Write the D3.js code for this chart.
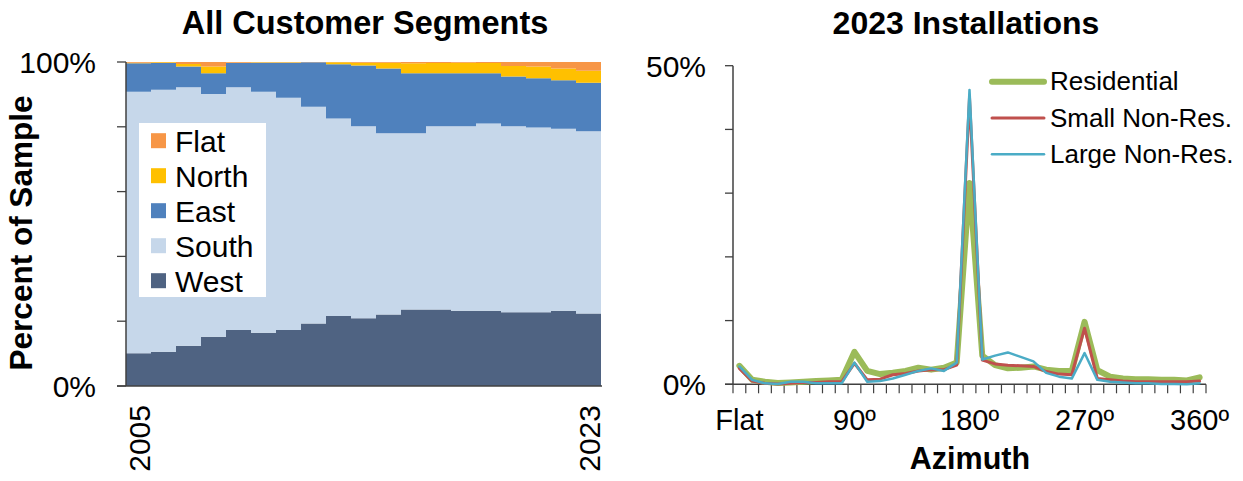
<!DOCTYPE html>
<html><head><meta charset="utf-8">
<script src="https://cdn.jsdelivr.net/npm/d3@7"></script>
<style>
html,body{margin:0;padding:0;background:#fff;}
svg{display:block;font-family:"Liberation Sans",Arial,sans-serif;}
</style></head>
<body>
<svg id="c" width="1243" height="481"></svg>
<script>
// ---------- Left chart data ----------
const years = [2005,2006,2007,2008,2009,2010,2011,2012,2013,2014,2015,2016,2017,2018,2019,2020,2021,2022,2023];
const segments = ["West","South","East","North","Flat"];
const west  = [10.1,10.6,12.4,15.2,17.3,16.4,17.3,19.3,21.6,20.9,22.1,23.6,23.6,23.2,23.2,22.8,22.8,23.2,22.4];
const south = [80.7,80.8,79.8,74.9,74.9,74.4,71.7,66.9,61.0,59.3,55.9,54.4,56.6,57.0,57.8,57.4,57.0,56.2,56.2];
const east  = [ 8.8, 8.3, 6.4, 6.4, 7.5, 9.0,10.8,13.7,16.7,18.7,20.0,18.5,16.3,16.3,15.5,15.3,15.2,15.0,15.0];
const north = [ 0.2, 0.2, 0.8, 2.1, 0.1, 0.1, 0.1, 0.0, 0.6, 0.9, 1.8, 3.1, 3.2, 3.3, 3.2, 3.3, 3.6, 3.6, 3.7];
const flat  = [ 0.2, 0.1, 0.6, 1.4, 0.2, 0.1, 0.1, 0.1, 0.1, 0.2, 0.2, 0.4, 0.3, 0.2, 0.3, 1.2, 1.4, 2.0, 2.7];
const leftYTicks = [0,20,40,60,80,100];
const leftYLabels = {0:"0%",100:"100%"};
const leftXLabels = [2005,2023];

// ---------- Right chart data ----------
const azimuths = ["Flat","10","20","30","40","50","60","70","80","90","100","110","120","130","140","150","160","170","180","190","200","210","220","230","240","250","260","270","280","290","300","310","320","330","340","350","360"];
const azLabels = {"Flat":"Flat","90":"90º","180":"180º","270":"270º","360":"360º"};
const residential = [2.9,0.7,0.4,0.2,0.3,0.4,0.5,0.6,0.7,5.1,2.1,1.6,1.8,2.1,2.6,2.3,2.6,3.4,31.6,4.5,3.0,2.5,2.6,2.8,2.3,2.1,2.1,9.8,2.2,1.2,0.9,0.8,0.8,0.7,0.7,0.6,1.1];
const smallNonRes = [2.5,0.5,0.15,0.05,0.15,0.3,0.3,0.4,0.4,3.3,0.7,0.8,1.5,1.7,2.1,2.3,2.3,3.0,45.0,3.8,3.2,3.0,2.9,2.8,2.0,1.6,1.5,8.8,0.9,0.7,0.5,0.4,0.4,0.4,0.4,0.4,0.5];
const largeNonRes = [2.8,0.7,0.15,0.05,0.4,0.4,0.15,0.15,0.15,3.4,0.4,0.5,0.9,1.5,2.1,2.5,2.1,3.4,46.2,3.9,4.5,5.0,4.3,3.6,1.8,1.2,0.9,4.9,0.7,0.4,0.3,0.15,0.15,0.05,0.05,0.0,0.15];
const rightYTicks = [0,10,20,30,40,50];
const rightYLabels = {0:"0%",50:"50%"};

const svg = d3.select("#c");
const axisColor = "#404040";

// ================= LEFT =================
const segColors = {West:"#4F6382",South:"#C6D7EA",East:"#4F81BD",North:"#FFC000",Flat:"#F79646"};
const segVals = {West:west,South:south,East:east,North:north,Flat:flat};
const rows = years.map((y,i)=>{const r={year:y}; segments.forEach(s=>r[s]=segVals[s][i]); return r;});
const stack = d3.stack().keys(segments)(rows);

const xL = d3.scaleBand().domain(years).range([126,601]).padding(0);
const yL = d3.scaleLinear().domain([0,100]).range([386,62]);

const gL = svg.append("g");
const areaL = d3.area()
  .x((d,i)=> i < years.length ? xL(years[i]) : xL.range()[1])
  .y0(d=>yL(d[0])).y1(d=>yL(d[1]))
  .curve(d3.curveStepAfter);
stack.forEach(layer=>{
  const pts = layer.map(d=>d).concat([layer[layer.length-1]]);
  gL.append("path").attr("d", areaL(pts)).attr("fill", segColors[layer.key]);
});

// left y axis
gL.append("line").attr("x1",126).attr("x2",126).attr("y1",yL(100)).attr("y2",yL(0)).attr("stroke",axisColor).attr("stroke-width",1.5);
leftYTicks.forEach(t=>{
  gL.append("line").attr("x1",117).attr("x2",126).attr("y1",yL(t)).attr("y2",yL(t)).attr("stroke",axisColor).attr("stroke-width",1.3);
  if (leftYLabels[t]!==undefined)
    gL.append("text").attr("x",96).attr("y",yL(t)+11).attr("text-anchor","end").attr("font-size",30).attr("fill","#000").text(leftYLabels[t]);
});
gL.append("line").attr("x1",117).attr("x2",602).attr("y1",386).attr("y2",386).attr("stroke",axisColor).attr("stroke-width",1.5);
leftXLabels.forEach(y=>{
  const cx = xL(y)+xL.bandwidth()/2 + 11;
  gL.append("text").attr("transform",`translate(${cx},405) rotate(-90)`).attr("text-anchor","end").attr("font-size",30).attr("fill","#000").text(String(y));
});
gL.append("text").attr("transform","translate(32,233) rotate(-90)").attr("text-anchor","middle").attr("font-size",31.5).attr("font-weight","bold").attr("fill","#000").text("Percent of Sample");
gL.append("text").attr("x",365).attr("y",34).attr("text-anchor","middle").attr("font-size",32.5).attr("font-weight","bold").attr("fill","#000").text("All Customer Segments");

// left legend
gL.append("rect").attr("x",139).attr("y",123).attr("width",127).attr("height",174).attr("fill","#fff");
const legOrder = ["Flat","North","East","South","West"];
legOrder.forEach((s,i)=>{
  const cy = 140.7 + i*35;
  gL.append("rect").attr("x",151).attr("y",cy-7.5).attr("width",15).attr("height",15).attr("fill",segColors[s]);
  gL.append("text").attr("x",175).attr("y",cy+11).attr("font-size",30).attr("fill","#000").text(s);
});

// ================= RIGHT =================
const xR = d3.scaleBand().domain(azimuths).range([733,1206]).padding(0);
const yR = d3.scaleLinear().domain([0,50]).range([384.3,65.7]);
const gR = svg.append("g");

gR.append("text").attr("x",966).attr("y",34).attr("text-anchor","middle").attr("font-size",32).attr("font-weight","bold").attr("fill","#000").text("2023 Installations");

// axes
gR.append("line").attr("x1",733).attr("x2",733).attr("y1",yR(50)).attr("y2",yR(0)).attr("stroke",axisColor).attr("stroke-width",1.5);
rightYTicks.forEach(t=>{
  gR.append("line").attr("x1",725).attr("x2",733).attr("y1",yR(t)).attr("y2",yR(t)).attr("stroke",axisColor).attr("stroke-width",1.3);
  if (rightYLabels[t]!==undefined)
    gR.append("text").attr("x",706).attr("y",yR(t)+11).attr("text-anchor","end").attr("font-size",30).attr("fill","#000").text(rightYLabels[t]);
});
gR.append("line").attr("x1",725).attr("x2",1206).attr("y1",yR(0)).attr("y2",yR(0)).attr("stroke",axisColor).attr("stroke-width",1.5);
azimuths.forEach(a=>{
  gR.append("line").attr("x1",xR(a)).attr("x2",xR(a)).attr("y1",yR(0)).attr("y2",yR(0)+9).attr("stroke",axisColor).attr("stroke-width",1.2);
});
gR.append("line").attr("x1",xR.range()[1]).attr("x2",xR.range()[1]).attr("y1",yR(0)).attr("y2",yR(0)+9).attr("stroke",axisColor).attr("stroke-width",1.2);
azimuths.forEach(a=>{
  if (azLabels[a]!==undefined)
    gR.append("text").attr("x",xR(a)+xR.bandwidth()/2).attr("y",430).attr("text-anchor","middle").attr("font-size",29).attr("fill","#000").text(azLabels[a]);
});
gR.append("text").attr("x",970).attr("y",469).attr("text-anchor","middle").attr("font-size",30.5).attr("font-weight","bold").attr("fill","#000").text("Azimuth");

const seriesR = [
  {name:"Residential", vals:residential, color:"#9BBB59", w:6},
  {name:"Small Non-Res.", vals:smallNonRes, color:"#C0504D", w:3},
  {name:"Large Non-Res.", vals:largeNonRes, color:"#4BACC6", w:2.5}
];
const lineR = d3.line().x((d,i)=>xR(azimuths[i])+xR.bandwidth()/2).y(d=>yR(d));
seriesR.forEach(s=>{
  gR.append("path").attr("d",lineR(s.vals)).attr("fill","none").attr("stroke",s.color).attr("stroke-width",s.w).attr("stroke-linejoin","round").attr("stroke-linecap","round");
});
// right legend
seriesR.forEach((s,i)=>{
  const cy = 81.7 + i*36.3;
  gR.append("line").attr("x1",992).attr("x2",1044).attr("y1",cy).attr("y2",cy).attr("stroke",s.color).attr("stroke-width",s.w).attr("stroke-linecap","round");
  gR.append("text").attr("x",1050).attr("y",cy+8.5).attr("font-size",26).attr("fill","#000").text(s.name);
});
</script>
</body></html>
